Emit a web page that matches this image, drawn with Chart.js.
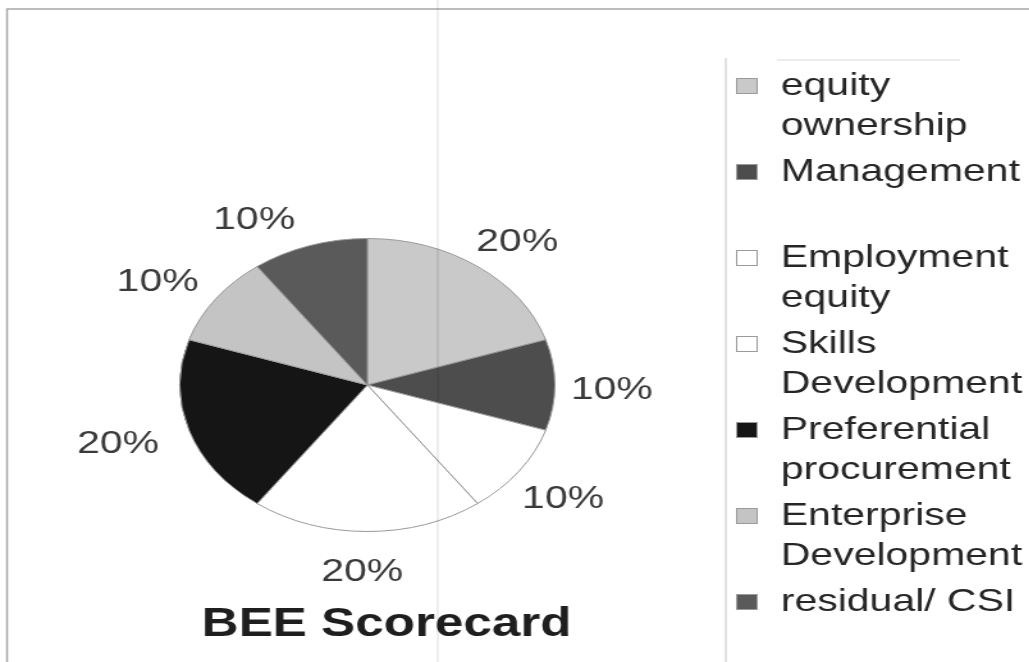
<!DOCTYPE html>
<html>
<head>
<meta charset="utf-8">
<script src="https://cdn.jsdelivr.net/npm/chart.js@4"></script>
<style>
   body { margin: 0; background: #fff; overflow: hidden; }
   #wrap { position: absolute; left: 0; top: 0; width: 804px; height: 662px; transform: scaleX(1.28); transform-origin: 0 0; }
</style>
</head>
<body>
<div id="wrap"><canvas id="pieChart" width="804" height="662"></canvas></div>
<script>
const categories = ['equity ownership', 'Management', 'Employment equity', 'Skills Development',
   'Preferential procurement', 'Enterprise Development', 'residual/ CSI'];
const legendLines = [['equity', 'ownership'], ['Management'], ['Employment', 'equity'], ['Skills', 'Development'],
   ['Preferential', 'procurement'], ['Enterprise', 'Development'], ['residual/ CSI']];
const scores = [20, 10, 10, 20, 20, 10, 10];
const sliceColors = ['#c9c9c9', '#4d4d4d', '#ffffff', '#ffffff', '#151515', '#c4c4c4', '#5a5a5a'];
const chartTitle = 'BEE Scorecard';

const FONT = '"Liberation Sans", Arial, sans-serif';
// small hand nudges for the % labels (the original labels were dragged a bit)
const labelNudge = [[6, 10], [2, 5], [0, 3], [-4, -2], [-15, 1], [-11, 8], [-30, 15]];

// scan frame + fold line like the original page
const framePlugin = {
   id: 'frame',
   beforeDraw(chart) {
      const ctx = chart.ctx;
      ctx.save();
      ctx.strokeStyle = '#a8a8a8';
      ctx.lineWidth = 1.5;
      ctx.beginPath();
      ctx.moveTo(5.5, 662);
      ctx.lineTo(5.5, 9);
      ctx.lineTo(804, 9);
      ctx.stroke();
      // legend box
      ctx.strokeStyle = '#c4c4c4';
      ctx.lineWidth = 1;
      ctx.beginPath();
      ctx.moveTo(567, 662);
      ctx.lineTo(567, 58);
      ctx.stroke();
      ctx.strokeStyle = '#dadada';
      ctx.beginPath();
      ctx.moveTo(607, 60);
      ctx.lineTo(750, 60);
      ctx.stroke();
      ctx.restore();
   },
   afterDraw(chart) {
      const ctx = chart.ctx;
      ctx.save();
      ctx.strokeStyle = 'rgba(0,0,0,0.12)';
      ctx.lineWidth = 1.2;
      ctx.beginPath();
      ctx.moveTo(342, 0);
      ctx.lineTo(342, 662);
      ctx.stroke();
      ctx.restore();
   }
};

const labelPlugin = {
   id: 'pctLabels',
   afterDatasetsDraw(chart) {
      const ctx = chart.ctx;
      const data = chart.data.datasets[0].data;
      const total = data.reduce((a, b) => a + b, 0);
      const meta = chart.getDatasetMeta(0);
      ctx.save();
      ctx.font = '32px ' + FONT;
      ctx.fillStyle = '#3a3a3a';
      ctx.textAlign = 'center';
      ctx.textBaseline = 'middle';
      meta.data.forEach((arc, i) => {
         const p = arc.getProps(['x', 'y', 'startAngle', 'endAngle', 'outerRadius'], true);
         const mid = (p.startAngle + p.endAngle) / 2;
         const r = p.outerRadius * 1.29;
         ctx.fillText(Math.round(data[i] / total * 100) + '%',
            p.x + Math.cos(mid) * r + labelNudge[i][0], p.y + Math.sin(mid) * r + labelNudge[i][1]);
      });

      // title under the pie
      ctx.font = 'bold 40px ' + FONT;
      ctx.fillStyle = '#1e1e1e';
      ctx.textBaseline = 'alphabetic';
      ctx.fillText(chartTitle, 302, 636);

      // legend
      ctx.textAlign = 'left';
      ctx.textBaseline = 'middle';
      ctx.font = '32px ' + FONT;
      for (let i = 0; i < legendLines.length; i++) {
         const y = 86 + i * 86;
         ctx.fillStyle = sliceColors[i];
         ctx.fillRect(575, y - 8, 17, 16);
         ctx.strokeStyle = '#9a9a9a';
         ctx.lineWidth = 1;
         ctx.strokeRect(575.5, y - 7.5, 16, 15);
         ctx.fillStyle = '#262626';
         legendLines[i].forEach((line, j) => ctx.fillText(line, 610, y + j * 40));
      }
      ctx.restore();
   }
};

const ctx = document.getElementById('pieChart').getContext('2d');
const pieChart = new Chart(ctx, {
   type: 'pie',
   data: {
      labels: categories,
      datasets: [{
         data: scores,
         backgroundColor: sliceColors,
         borderColor: '#999999',
         borderWidth: 1
      }]
   },
   options: {
      responsive: false,
      animation: false,
      devicePixelRatio: 1,
      events: [],
      layout: { padding: { left: 140, right: 370, top: 238, bottom: 130 } },
      plugins: {
         legend: { display: false },
         title: { display: false },
         tooltip: { enabled: false }
      }
   },
   plugins: [framePlugin, labelPlugin]
});
</script>
</body>
</html>
